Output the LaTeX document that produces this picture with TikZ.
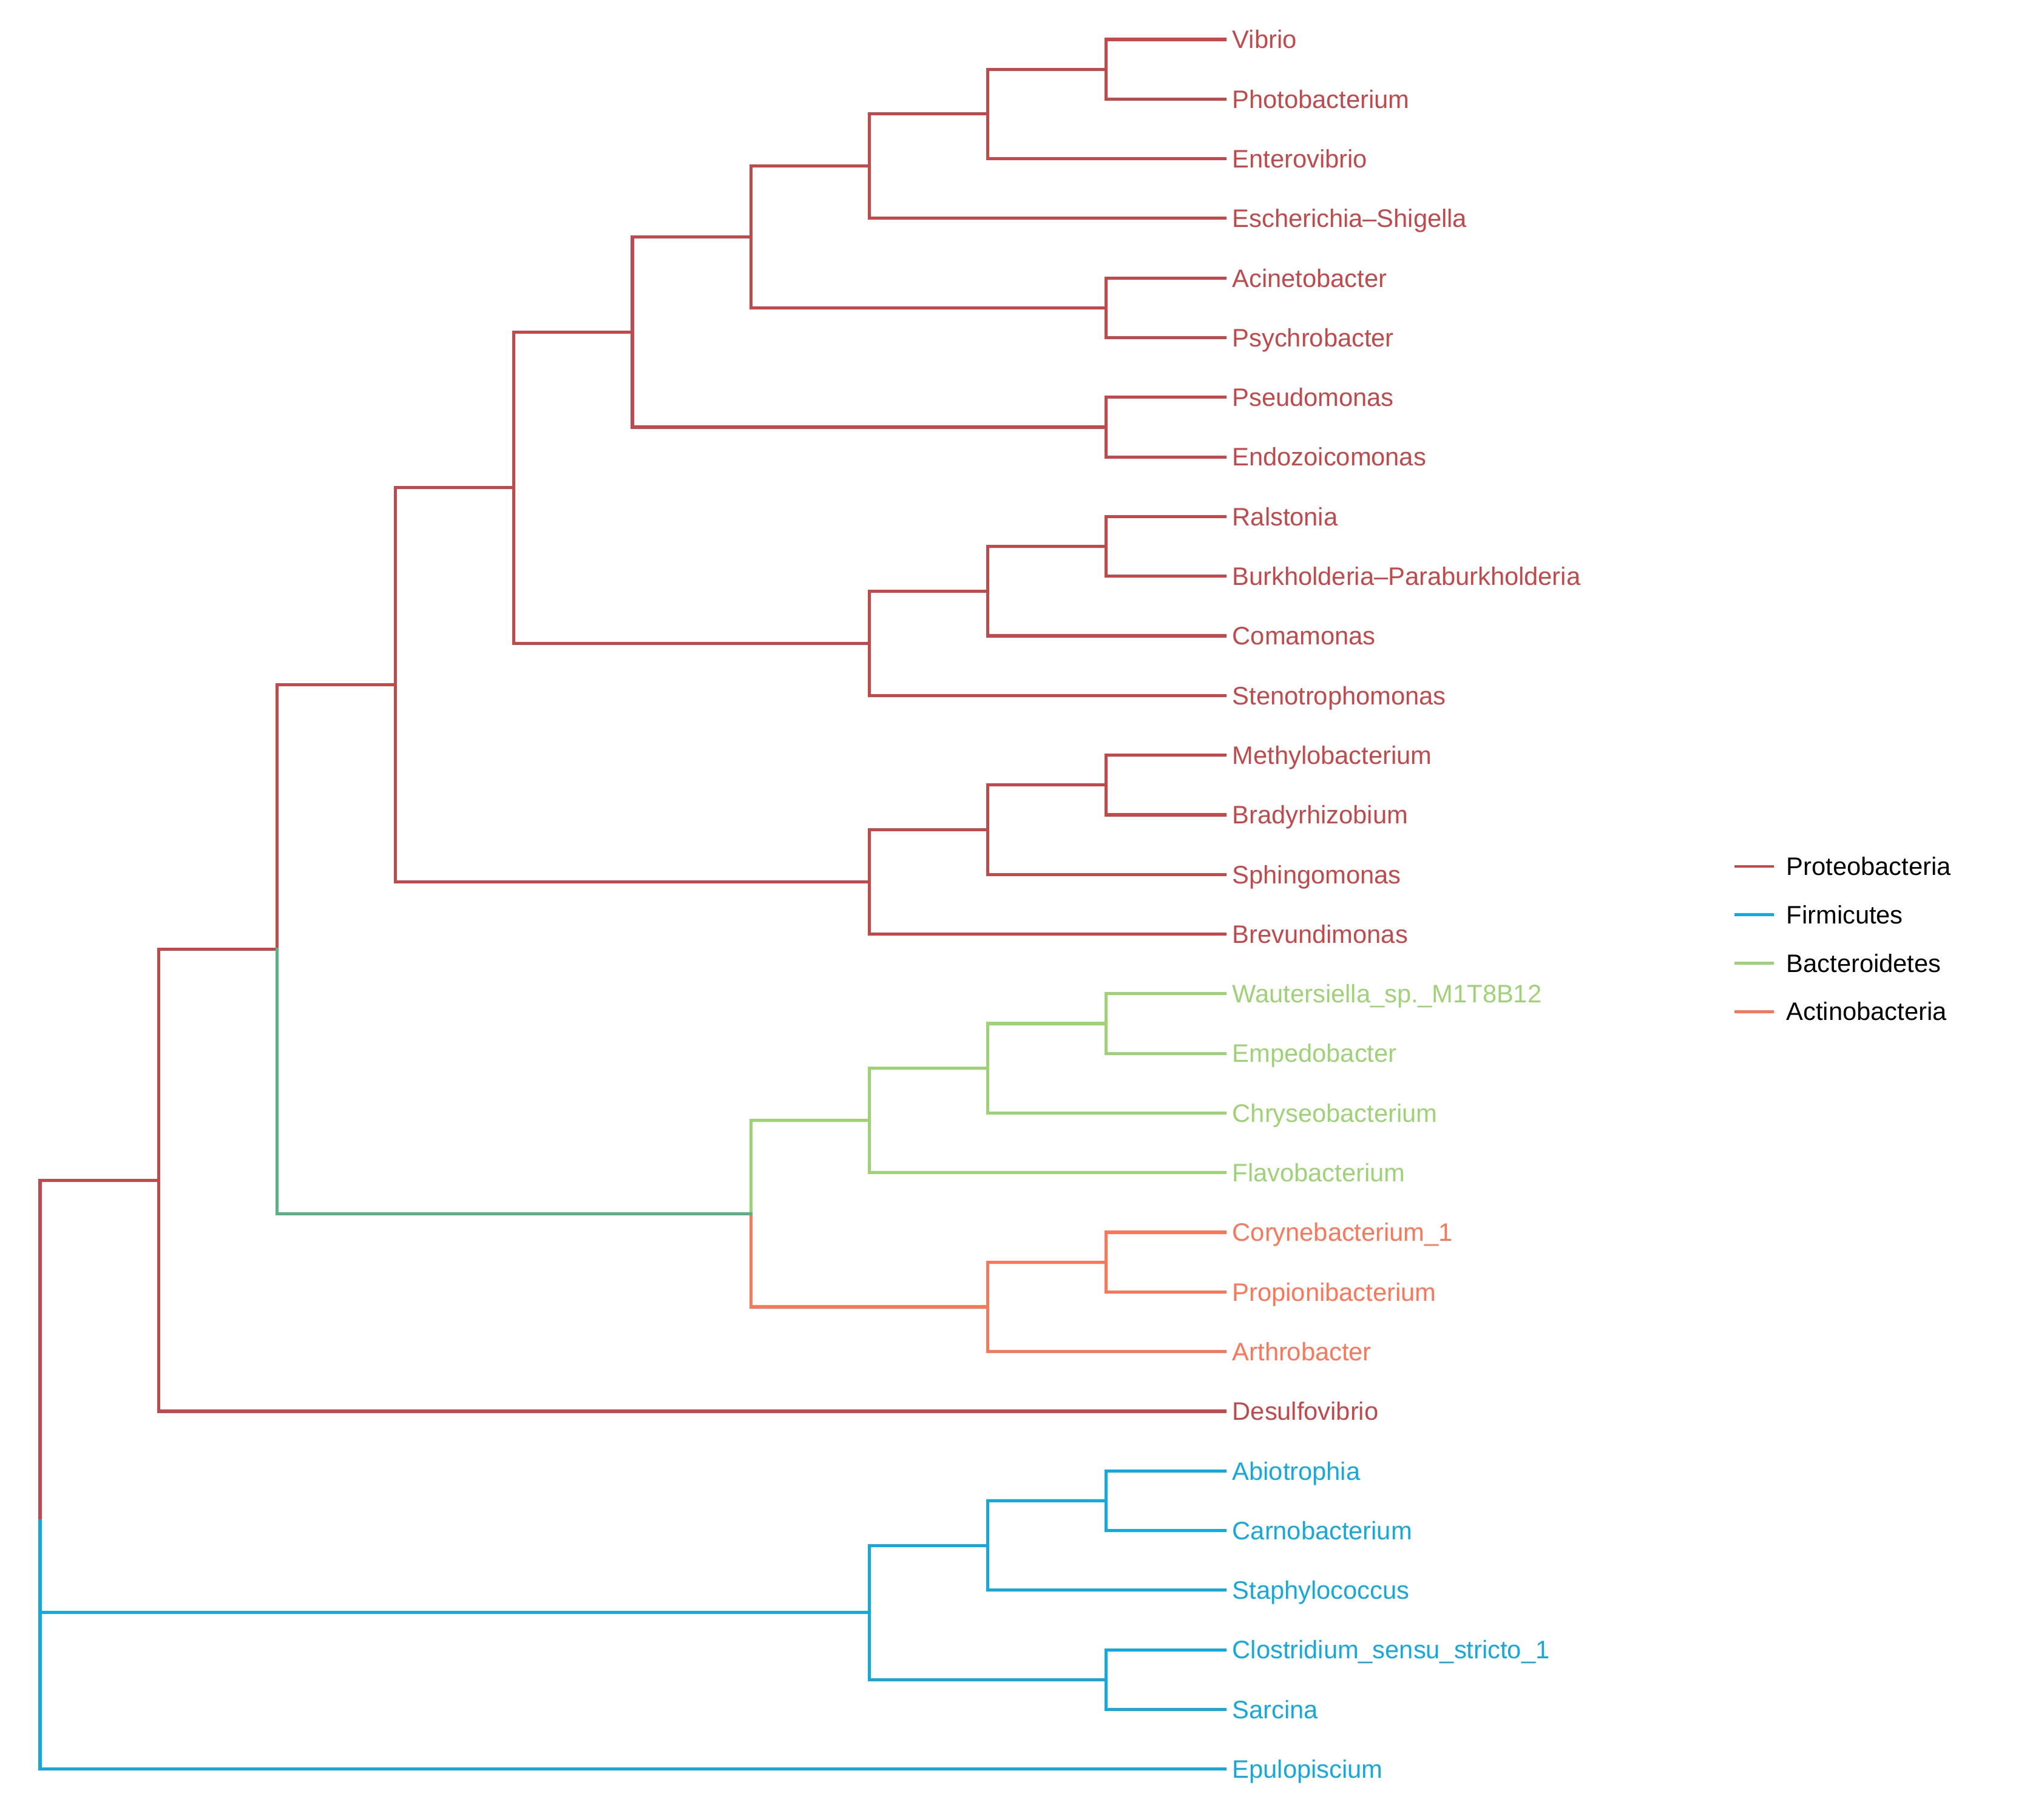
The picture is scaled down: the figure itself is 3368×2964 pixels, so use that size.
\documentclass[tikz,border=0pt]{standalone}
\usepackage{fontspec}
\setmainfont{Liberation Sans}
\definecolor{proteo}{HTML}{C4474A}
\definecolor{firmi}{HTML}{12A9E0}
\definecolor{bacte}{HTML}{9DD374}
\definecolor{actino}{HTML}{FF7557}
\definecolor{mixba}{HTML}{55B385}
\newcommand\dgx[1]{66+195.2*#1}
\newcommand\dgy[1]{65+98.3*#1}
\begin{document}
\begin{tikzpicture}[x=0.25pt,y=-0.25pt,
  branch/.style={line width=1.3pt,line cap=rect},
  legline/.style={line width=1.2pt,line cap=butt},
  leaflabel/.style={anchor=base west,inner sep=0pt,yshift=-3.7pt,font=\fontsize{10.4pt}{12pt}\selectfont}]
\useasboundingbox (0,0) rectangle (3368,2964);
% leaves
\foreach \i/\nm/\txt/\col in {
 0/l0/Vibrio/proteo,
 1/l1/Photobacterium/proteo,
 2/l2/Enterovibrio/proteo,
 3/l3/Escherichia\textendash Shigella/proteo,
 4/l4/Acinetobacter/proteo,
 5/l5/Psychrobacter/proteo,
 6/l6/Pseudomonas/proteo,
 7/l7/Endozoicomonas/proteo,
 8/l8/Ralstonia/proteo,
 9/l9/Burkholderia\textendash Paraburkholderia/proteo,
 10/l10/Comamonas/proteo,
 11/l11/Stenotrophomonas/proteo,
 12/l12/Methylobacterium/proteo,
 13/l13/Bradyrhizobium/proteo,
 14/l14/Sphingomonas/proteo,
 15/l15/Brevundimonas/proteo,
 16/l16/Wautersiella\_sp.\_M1T8B12/bacte,
 17/l17/Empedobacter/bacte,
 18/l18/Chryseobacterium/bacte,
 19/l19/Flavobacterium/bacte,
 20/l20/Corynebacterium\_1/actino,
 21/l21/Propionibacterium/actino,
 22/l22/Arthrobacter/actino,
 23/l23/Desulfovibrio/proteo,
 24/l24/Abiotrophia/firmi,
 25/l25/Carnobacterium/firmi,
 26/l26/Staphylococcus/firmi,
 27/l27/Clostridium\_sensu\_stricto\_1/firmi,
 28/l28/Sarcina/firmi,
 29/l29/Epulopiscium/firmi}{
  \coordinate (\nm) at (2018,{\dgy{\i}});
  \node[leaflabel,text=\col] (t\nm) at (2030,{\dgy{\i}}) {\txt};
}
% internal nodes
\coordinate (nVP) at ({\dgx{9}},{\dgy{0.5}});
\coordinate (nVPE) at ({\dgx{8}},{\dgy{1.25}});
\coordinate (nVPEE) at ({\dgx{7}},{\dgy{2.125}});
\coordinate (nAP) at ({\dgx{9}},{\dgy{4.5}});
\coordinate (nG1) at ({\dgx{6}},{\dgy{3.3125}});
\coordinate (nPE) at ({\dgx{9}},{\dgy{6.5}});
\coordinate (nG2) at ({\dgx{5}},{\dgy{4.90625}});
\coordinate (nRB) at ({\dgx{9}},{\dgy{8.5}});
\coordinate (nRBC) at ({\dgx{8}},{\dgy{9.25}});
\coordinate (nRBCS) at ({\dgx{7}},{\dgy{10.125}});
\coordinate (nG3) at ({\dgx{4}},{\dgy{7.515625}});
\coordinate (nMB) at ({\dgx{9}},{\dgy{12.5}});
\coordinate (nMBS) at ({\dgx{8}},{\dgy{13.25}});
\coordinate (nMBSB) at ({\dgx{7}},{\dgy{14.125}});
\coordinate (nG4) at ({\dgx{3}},{\dgy{10.8203}});
\coordinate (nWE) at ({\dgx{9}},{\dgy{16.5}});
\coordinate (nWEC) at ({\dgx{8}},{\dgy{17.25}});
\coordinate (nWECF) at ({\dgx{7}},{\dgy{18.125}});
\coordinate (nCP) at ({\dgx{9}},{\dgy{20.5}});
\coordinate (nCPA) at ({\dgx{8}},{\dgy{21.25}});
\coordinate (nBA) at ({\dgx{6}},{\dgy{19.6875}});
\coordinate (nG5) at ({\dgx{2}},{\dgy{15.2539}});
\coordinate (nG6) at ({\dgx{1}},{\dgy{19.127}});
\coordinate (nAC) at ({\dgx{9}},{\dgy{24.5}});
\coordinate (nACS) at ({\dgx{8}},{\dgy{25.25}});
\coordinate (nCS) at ({\dgx{9}},{\dgy{27.5}});
\coordinate (nF) at ({\dgx{7}},{\dgy{26.375}});
\coordinate (nR) at ({\dgx{0}},{\dgy{24.834}});
% Proteobacteria branches
\foreach \p/\c in {nVP/l0,nVP/l1,nVPE/nVP,nVPE/l2,nVPEE/nVPE,nVPEE/l3,
  nAP/l4,nAP/l5,nG1/nVPEE,nG1/nAP,nPE/l6,nPE/l7,nG2/nG1,nG2/nPE,
  nRB/l8,nRB/l9,nRBC/nRB,nRBC/l10,nRBCS/nRBC,nRBCS/l11,nG3/nG2,nG3/nRBCS,
  nMB/l12,nMB/l13,nMBS/nMB,nMBS/l14,nMBSB/nMBS,nMBSB/l15,nG4/nG3,nG4/nMBSB,
  nG5/nG4,nG6/nG5,nG6/l23,nR/nG6}
  \draw[branch,proteo] (\p) |- (\c);
% Bacteroidetes
\foreach \p/\c in {nWE/l16,nWE/l17,nWEC/nWE,nWEC/l18,nWECF/nWEC,nWECF/l19,nBA/nWECF}
  \draw[branch,bacte] (\p) |- (\c);
% Actinobacteria
\foreach \p/\c in {nCP/l20,nCP/l21,nCPA/nCP,nCPA/l22,nBA/nCPA}
  \draw[branch,actino] (\p) |- (\c);
% mixed
\draw[branch,mixba] (nG5) |- (nBA);
% Firmicutes
\foreach \p/\c in {nAC/l24,nAC/l25,nACS/nAC,nACS/l26,nCS/l27,nCS/l28,nF/nACS,nF/nCS,nR/nF,nR/l29}
  \draw[branch,firmi] (\p) |- (\c);
% legend
\foreach \j/\nm/\col in {0/Proteobacteria/proteo,1/Firmicutes/firmi,2/Bacteroidetes/bacte,3/Actinobacteria/actino}{
  \coordinate (lga\j) at (2858,{1428+79.7*\j});
  \coordinate (lgb\j) at (2923,{1428+79.7*\j});
  \draw[legline,\col] (lga\j) -- (lgb\j);
  \node[leaflabel] (lgt\j) at (2943,{1428+79.7*\j}) {\nm};
}
\end{tikzpicture}
\end{document}
